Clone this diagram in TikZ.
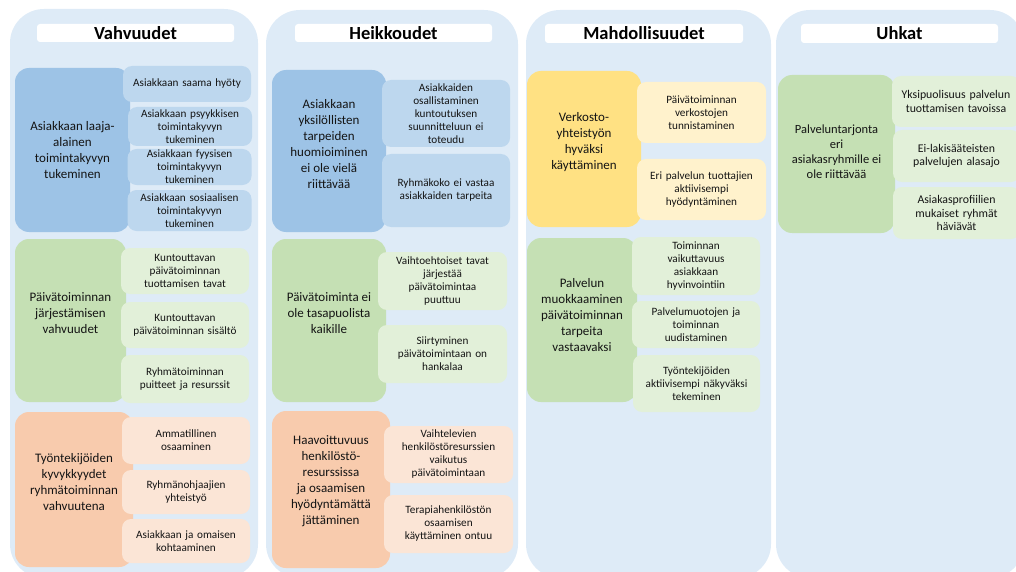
\documentclass[tikz,border=0pt]{standalone}
\usepackage{fontspec}
\setmainfont{Carlito}
\definecolor{colbg}{HTML}{DEEBF7}
\definecolor{blueD}{HTML}{9DC3E6}
\definecolor{blueL}{HTML}{BDD7EE}
\definecolor{greenD}{HTML}{C5E0B4}
\definecolor{greenL}{HTML}{E2F0D9}
\definecolor{orangeD}{HTML}{F8CBAD}
\definecolor{orangeL}{HTML}{FBE5D6}
\definecolor{goldD}{HTML}{FFE183}
\definecolor{goldL}{HTML}{FFF2CC}
\definecolor{ink}{HTML}{141414}
% style, name, x1, y1, x2, y2, text
\newcommand\placecard[7]{%
  \node[#1, minimum width={#5-#3}, minimum height={#6-#4}] (#2)
    at ({(#3+#5)/2},{(#4+#6)/2}) {#7};}
\begin{document}
\begin{tikzpicture}[x=1pt,y=-1pt,
  column/.style={fill=colbg, rounded corners=34pt, inner sep=0pt},
  heading/.style={fill=white, rounded corners=3pt, inner sep=0pt, text=black,
    font=\bfseries\fontsize{18.5}{20}\selectfont},
  bigcard/.style={rounded corners=14pt, inner sep=0pt},
  bigtext/.style={align=center, inner sep=0pt, text=ink,
    font=\fontsize{13}{16}\selectfont},
  smallcard/.style={rounded corners=9pt, inner sep=0pt, align=center,
    text width=124pt, text=ink, font=\fontsize{11.2}{13}\selectfont},
  widesmall/.style={smallcard, font=\fontsize{11.8}{13.2}\selectfont}]
\useasboundingbox (0,0) rectangle (1016,572);
\clip (0,0) rectangle (1016,572);

% column panels
\placecard{column}{col1}{10}{9}{258}{578}{}
\placecard{column}{col2}{266}{10}{518}{578}{}
\placecard{column}{col3}{526}{10}{771}{578}{}
\placecard{column}{col4}{776}{10}{1024}{578}{}

% headings
\placecard{heading}{t1}{37}{24}{234}{42}{Vahvuudet}
\placecard{heading}{t2}{295}{24}{492}{42}{Heikkoudet}
\placecard{heading}{t3}{545}{24}{743}{43}{Mahdollisuudet}
\placecard{heading}{t4}{801}{24}{998}{43}{Uhkat}

% ---- Vahvuudet ----
\placecard{bigcard,fill=blueD}{b11}{15}{68}{130}{232}{}
\node[bigtext] (b11t) at (b11.center) {Asiakkaan laaja-\\alainen\\toimintakyvyn\\tukeminen};
\placecard{smallcard,fill=blueL}{s11}{123}{66}{251}{102}{Asiakkaan saama hyöty}
\placecard{smallcard,fill=blueL}{s12}{129}{107}{251}{146}{Asiakkaan psyykkisen\\toimintakyvyn\\tukeminen}
\placecard{smallcard,fill=blueL}{s13}{128}{149}{251}{185}{Asiakkaan fyysisen\\toimintakyvyn\\tukeminen}
\placecard{smallcard,fill=blueL}{s14}{128}{190}{251}{231}{Asiakkaan sosiaalisen\\toimintakyvyn\\tukeminen}

\placecard{bigcard,fill=greenD}{b12}{15}{239}{126}{402}{}
\node[bigtext] (b12t) at ([yshift=7pt]b12.center) {Päivätoiminnan\\järjestämisen\\vahvuudet};
\placecard{smallcard,fill=greenL}{s15}{121}{248}{249}{294}{Kuntouttavan\\päivätoiminnan\\tuottamisen tavat}
\placecard{smallcard,fill=greenL}{s16}{121}{302}{249}{348}{Kuntouttavan\\päivätoiminnan sisältö}
\placecard{smallcard,fill=greenL}{s17}{121}{355}{249}{403}{Ryhmätoiminnan\\puitteet ja resurssit}

\placecard{bigcard,fill=orangeD}{b13}{15}{412}{133}{567}{}
\node[bigtext] (b13t) at ([yshift=7pt]b13.center) {Työntekijöiden\\kyvykkyydet\\ryhmätoiminnan\\vahvuutena};
\placecard{smallcard,fill=orangeL}{s18}{122}{417}{250}{464}{Ammatillinen\\osaaminen}
\placecard{smallcard,fill=orangeL}{s19}{122}{470}{250}{514}{Ryhmänohjaajien\\yhteistyö}
\placecard{smallcard,fill=orangeL}{s1a}{122}{519}{250}{563}{Asiakkaan ja omaisen\\kohtaaminen}

% ---- Heikkoudet ----
\placecard{bigcard,fill=blueD}{b21}{272}{70}{386}{232}{}
\node[bigtext] (b21t) at ([yshift=7pt]b21.center) {Asiakkaan\\yksilöllisten\\tarpeiden\\huomioiminen\\ei ole vielä\\riittävää};
\placecard{smallcard,fill=blueL}{s21}{382}{80}{510}{147}{Asiakkaiden\\osallistaminen\\kuntoutuksen\\suunnitteluun ei\\toteudu}
\placecard{smallcard,fill=blueL}{s22}{382}{154}{510}{227}{Ryhmäkoko ei vastaa\\asiakkaiden tarpeita}

\placecard{bigcard,fill=greenD}{b22}{272}{239}{386}{402}{}
\node[bigtext] (b22t) at ([yshift=7pt]b22.center) {Päivätoiminta ei\\ole tasapuolista\\kaikille};
\placecard{smallcard,fill=greenL}{s23}{378}{252}{507}{310}{Vaihtoehtoiset tavat\\järjestää\\päivätoimintaa\\puuttuu}
\placecard{smallcard,fill=greenL}{s24}{378}{325}{507}{383}{Siirtyminen\\päivätoimintaan on\\hankalaa}

\placecard{bigcard,fill=orangeD}{b23}{272}{411}{390}{568}{}
\node[bigtext] (b23t) at ([yshift=8pt]b23.center) {Haavoittuvuus\\henkilöstö-\\resurssissa\\ja osaamisen\\hyödyntämättä\\jättäminen};
\placecard{smallcard,fill=orangeL}{s25}{384}{426}{513}{483}{Vaihtelevien\\henkilöstöresurssien\\vaikutus\\päivätoimintaan}
\placecard{smallcard,fill=orangeL}{s26}{384}{495}{513}{553}{Terapiahenkilöstön\\osaamisen\\käyttäminen ontuu}

% ---- Mahdollisuudet ----
\placecard{bigcard,fill=goldD}{b31}{527}{71}{641}{227}{}
\node[bigtext] (b31t) at ([yshift=7pt]b31.center) {Verkosto-\\yhteistyön\\hyväksi\\käyttäminen};
\placecard{smallcard,fill=goldL}{s31}{637}{82}{766}{143}{Päivätoiminnan\\verkostojen\\tunnistaminen}
\placecard{smallcard,fill=goldL}{s32}{637}{159}{766}{220}{Eri palvelun tuottajien\\aktiivisempi\\hyödyntäminen}

\placecard{bigcard,fill=greenD}{b32}{527}{238}{637}{402}{}
\node[bigtext] (b32t) at ([yshift=5pt]b32.center) {Palvelun\\muokkaaminen\\päivätoiminnan\\tarpeita\\vastaavaksi};
\placecard{smallcard,fill=greenL}{s33}{632}{237}{760}{295}{Toiminnan\\vaikuttavuus\\asiakkaan\\hyvinvointiin}
\placecard{smallcard,fill=greenL}{s34}{632}{301}{760}{348}{Palvelumuotojen ja\\toiminnan\\uudistaminen}
\placecard{smallcard,fill=greenL}{s35}{633}{355}{760}{412}{Työntekijöiden\\aktiivisempi näkyväksi\\tekeminen}

% ---- Uhkat ----
\placecard{bigcard,fill=greenD}{b41}{778}{75}{895}{233}{}
\node[bigtext, font=\fontsize{12.5}{15}\selectfont] (b41t) at ([yshift=2pt]b41.center) {Palveluntarjonta\\eri\\asiakasryhmille ei\\ole riittävää};
\placecard{widesmall,fill=greenL}{s41}{892}{76}{1020}{127}{Yksipuolisuus palvelun\\tuottamisen tavoissa}
\placecard{widesmall,fill=greenL}{s42}{893}{130}{1020}{182}{Ei-lakisääteisten\\palvelujen alasajo}
\placecard{widesmall,fill=greenL}{s43}{893}{187}{1020}{239}{Asiakasprofiilien\\mukaiset ryhmät\\häviävät}
\end{tikzpicture}
\end{document}
